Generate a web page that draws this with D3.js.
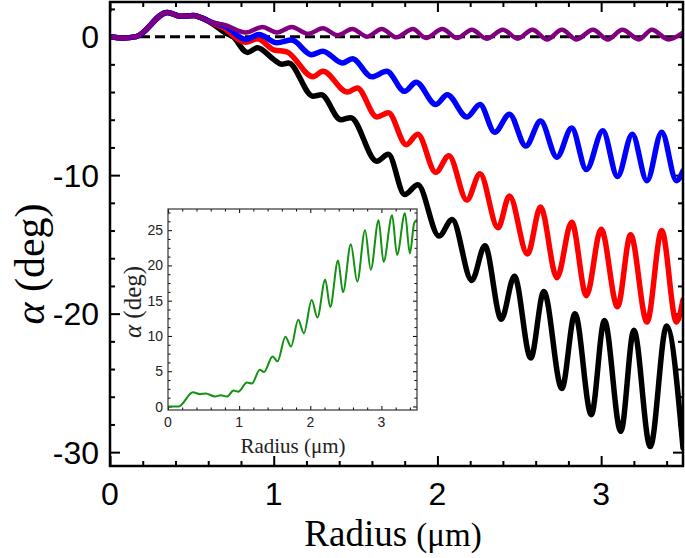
<!DOCTYPE html>
<html>
<head>
<meta charset="utf-8">
<script src="https://cdn.jsdelivr.net/npm/d3@7"></script>
<style>
  html, body { margin: 0; padding: 0; background: #fff; }
  svg { display: block; }
</style>
</head>
<body>
<svg id="chart" width="685" height="558"></svg>
<script>
// ---------------- DATA ----------------
// Main panel: rotation angle alpha (deg) vs radius (um); extrema / turning points
const purpleR = [0, 0.08, 0.16, 0.35, 0.43, 0.51, 0.56, 0.63, 0.70, 0.83, 0.93, 1.02, 1.11, 1.21, 1.30, 1.39, 1.48, 1.57, 1.66, 1.75, 1.85, 1.93, 2.03, 2.12, 2.21, 2.30, 2.40, 2.49, 2.58, 2.67, 2.76, 2.85, 2.95, 3.04, 3.13, 3.23, 3.31, 3.41, 3.50];
const purpleA = [0, -0.1, 0, 1.75, 1.47, 1.52, 1.35, 1.0, 0.85, 0.3, 0.7, 0.3, 0.7, 0.2, 0.6, 0.1, 0.55, 0, 0.55, -0.05, 0.55, -0.1, 0.55, -0.1, 0.5, -0.15, 0.5, -0.15, 0.5, -0.2, 0.5, -0.2, 0.5, -0.2, 0.5, -0.2, 0.5, -0.2, 0.3];

const blueR = [0, 0.08, 0.16, 0.35, 0.43, 0.51, 0.56, 0.63, 0.70, 0.83, 0.91, 1.02, 1.11, 1.23, 1.30, 1.42, 1.48, 1.60, 1.69, 1.80, 1.87, 1.99, 2.06, 2.18, 2.26, 2.35, 2.44, 2.54, 2.63, 2.73, 2.82, 2.91, 3.01, 3.10, 3.19, 3.28, 3.37, 3.46, 3.50];
const blueA = [0, -0.1, 0, 1.75, 1.47, 1.52, 1.35, 1.0, 0.75, -0.2, 0.15, -0.45, -0.25, -1.3, -1.05, -1.9, -1.6, -2.9, -2.5, -3.95, -3.3, -4.9, -4.2, -5.8, -4.9, -6.9, -5.6, -7.9, -6.1, -8.7, -6.6, -9.6, -6.8, -10.1, -7.05, -10.4, -6.9, -10.4, -9.7];

const redR = [0, 0.08, 0.16, 0.35, 0.43, 0.51, 0.56, 0.63, 0.70, 0.77, 0.83, 0.90, 1.00, 1.08, 1.24, 1.30, 1.45, 1.51, 1.63, 1.70, 1.81, 1.88, 1.99, 2.07, 2.18, 2.26, 2.37, 2.44, 2.55, 2.63, 2.73, 2.82, 2.91, 3.00, 3.10, 3.18, 3.28, 3.37, 3.46, 3.50];
const redA = [0, -0.1, 0, 1.75, 1.47, 1.52, 1.35, 0.95, 0.6, -0.1, -0.4, -0.15, -0.95, -1.1, -2.9, -2.5, -4.0, -3.7, -5.8, -5.5, -7.8, -7.05, -9.8, -8.6, -11.8, -9.9, -13.8, -11.5, -15.7, -12.3, -17.4, -13.4, -18.7, -13.9, -19.5, -14.3, -20.6, -14.0, -20.6, -19.0];

const blackR = [0, 0.08, 0.16, 0.35, 0.43, 0.51, 0.56, 0.63, 0.70, 0.75, 0.84, 0.90, 1.00, 1.05, 1.09, 1.24, 1.29, 1.41, 1.47, 1.63, 1.70, 1.80, 1.88, 2.01, 2.09, 2.21, 2.29, 2.39, 2.47, 2.57, 2.65, 2.76, 2.84, 2.94, 3.02, 3.12, 3.20, 3.30, 3.40, 3.50];
const blackA = [0, -0.1, 0, 1.75, 1.47, 1.52, 1.35, 0.9, 0.3, 0.0, -1.15, -0.8, -1.65, -2.0, -1.9, -4.3, -4.2, -6.0, -5.85, -9.0, -8.5, -11.4, -10.7, -14.4, -13.2, -17.6, -15.1, -20.4, -17.3, -23.2, -18.4, -25.4, -20.0, -27.3, -20.5, -28.5, -21.2, -29.6, -20.9, -29.7];

// Inset: green curve
const greenR = [0, 0.15, 0.35, 0.45, 0.53, 0.66, 0.74, 0.83, 0.92, 0.99, 1.11, 1.18, 1.29, 1.35, 1.47, 1.54, 1.65, 1.73, 1.83, 1.91, 2.02, 2.10, 2.21, 2.28, 2.39, 2.46, 2.57, 2.66, 2.77, 2.85, 2.96, 3.03, 3.15, 3.22, 3.33, 3.40, 3.46, 3.50];
const greenA = [0, 0, 2.0, 1.75, 1.85, 1.4, 1.6, 1.4, 2.25, 2.1, 3.4, 3.25, 5.2, 4.9, 7.1, 6.4, 9.9, 8.5, 12.3, 10.4, 15.1, 12.6, 18.0, 14.1, 20.7, 16.2, 23.0, 17.7, 25.0, 19.4, 26.4, 20.5, 27.1, 21.5, 27.4, 21.7, 26.0, 26.5];

// Ticks
const mainXTicks = [0, 1, 2, 3];
const mainYTicks = [0, -10, -20, -30];
const insetXTicks = [0, 1, 2, 3];
const insetYTicks = [0, 5, 10, 15, 20, 25];

// ---------------- DRAWING ----------------
const svg = d3.select("#chart");
const SANS = "'Liberation Sans', Arial, sans-serif";
const SERIF = "'Liberation Serif', 'Times New Roman', serif";

// Main scales
const L = 110, R = 683, T = 2, B = 466;
const x = d3.scaleLinear().domain([0, 3.5]).range([L, R]);
const y = d3.scaleLinear().domain([-31, 2.5]).range([B, T]);

svg.append("defs").append("clipPath").attr("id", "clipMain")
  .append("rect").attr("x", L).attr("y", T).attr("width", R - L).attr("height", B - T);

function drawTicks(g, scale, values, orient, size, width) {
  const ax = (orient === "bottom" ? d3.axisBottom : orient === "top" ? d3.axisTop :
              orient === "left" ? d3.axisLeft : d3.axisRight)(scale)
    .tickValues(values).tickSize(-size).tickFormat("");
  g.call(ax);
  g.select(".domain").remove();
  g.selectAll(".tick line").attr("stroke", "#000").attr("stroke-width", width);
}
const range = (a, b, s) => d3.range(Math.round((b - a) / s) + 1).map(i => +(a + i * s).toFixed(4));

// Main ticks (inward, mirrored)
const mxMinor = range(0, 3.4, 0.2).filter(v => !mainXTicks.includes(v));
const myMinor = range(-30, 2, 2).filter(v => !mainYTicks.includes(v));
const mainAx = svg.append("g");
drawTicks(mainAx.append("g").attr("transform", `translate(0,${B})`), x, mainXTicks, "bottom", 10, 2);
drawTicks(mainAx.append("g").attr("transform", `translate(0,${B})`), x, mxMinor, "bottom", 5, 2);
drawTicks(mainAx.append("g").attr("transform", `translate(0,${T})`), x, mainXTicks, "top", 10, 2);
drawTicks(mainAx.append("g").attr("transform", `translate(0,${T})`), x, mxMinor, "top", 5, 2);
drawTicks(mainAx.append("g").attr("transform", `translate(${L},0)`), y, mainYTicks, "left", 10, 2);
drawTicks(mainAx.append("g").attr("transform", `translate(${L},0)`), y, myMinor, "left", 5, 2);
drawTicks(mainAx.append("g").attr("transform", `translate(${R},0)`), y, mainYTicks, "right", 10, 2);
drawTicks(mainAx.append("g").attr("transform", `translate(${R},0)`), y, myMinor, "right", 5, 2);

// Main tick labels
svg.append("g").selectAll("text").data(mainXTicks).join("text")
  .attr("x", d => x(d)).attr("y", 505).attr("text-anchor", "middle")
  .attr("font-family", SANS).attr("font-size", 32).text(d => d);
svg.append("g").selectAll("text").data(mainYTicks).join("text")
  .attr("x", 99).attr("y", d => y(d)).attr("dy", "0.36em").attr("text-anchor", "end")
  .attr("font-family", SANS).attr("font-size", 32).text(d => d);

// Main curves
const plot = svg.append("g").attr("clip-path", "url(#clipMain)");
plot.append("line").attr("x1", x(0)).attr("x2", x(3.5)).attr("y1", y(0)).attr("y2", y(0))
  .attr("stroke", "#000").attr("stroke-width", 3).attr("stroke-dasharray", "10,5");

const mkLine = (xs, ys) => d3.line().x(d => xs(d[0])).y(d => ys(d[1])).curve(d3.curveMonotoneX);
const zip = (a, b) => a.map((v, i) => [v, b[i]]);
const series = [
  { r: blackR, a: blackA, color: "#000000", w: 5.5 },
  { r: redR, a: redA, color: "#ff0000", w: 5.5 },
  { r: blueR, a: blueA, color: "#0000ff", w: 5.5 },
  { r: purpleR, a: purpleA, color: "#800080", w: 4.5 }
];
series.forEach(s => {
  plot.append("path").datum(zip(s.r, s.a)).attr("d", mkLine(x, y))
    .attr("fill", "none").attr("stroke", s.color).attr("stroke-width", s.w)
    .attr("stroke-linejoin", "round").attr("stroke-linecap", "round");
});

// Main frame
svg.append("rect").attr("x", L).attr("y", T).attr("width", R - L).attr("height", B - T)
  .attr("fill", "none").attr("stroke", "#000").attr("stroke-width", 2.5);

// Main axis labels
const yl = svg.append("text").attr("transform", "translate(44,264) rotate(-90)")
  .attr("text-anchor", "middle").attr("font-family", SERIF).attr("font-size", 42);
yl.append("tspan").attr("font-style", "italic").text("α");
yl.append("tspan").text(" (deg)");
const xl = svg.append("text").attr("x", 393).attr("y", 546).attr("text-anchor", "middle")
  .attr("font-family", SERIF);
xl.append("tspan").attr("font-size", 37).text("Radius ");
xl.append("tspan").attr("font-size", 33).text("(μm)");

// ---------------- INSET ----------------
const iL = 168, iR = 417, iT = 209, iB = 410;
const ix = d3.scaleLinear().domain([0, 3.5]).range([iL, iR]);
const iy = d3.scaleLinear().domain([-0.5, 28]).range([iB, iT]);
svg.append("rect").attr("x", iL).attr("y", iT).attr("width", iR - iL).attr("height", iB - iT)
  .attr("fill", "#fff");
svg.append("defs").append("clipPath").attr("id", "clipInset")
  .append("rect").attr("x", iL).attr("y", iT).attr("width", iR - iL).attr("height", iB - iT);

const ixMinor = range(0, 3.4, 0.2).filter(v => !insetXTicks.includes(v));
const iyMinor = range(0, 27.5, 1.25).filter(v => !insetYTicks.includes(v));
const inAx = svg.append("g");
drawTicks(inAx.append("g").attr("transform", `translate(0,${iB})`), ix, insetXTicks, "bottom", 4, 1);
drawTicks(inAx.append("g").attr("transform", `translate(0,${iB})`), ix, ixMinor, "bottom", 2.5, 1);
drawTicks(inAx.append("g").attr("transform", `translate(0,${iT})`), ix, insetXTicks, "top", 4, 1);
drawTicks(inAx.append("g").attr("transform", `translate(0,${iT})`), ix, ixMinor, "top", 2.5, 1);
drawTicks(inAx.append("g").attr("transform", `translate(${iL},0)`), iy, insetYTicks, "left", 4, 1);
drawTicks(inAx.append("g").attr("transform", `translate(${iL},0)`), iy, iyMinor, "left", 2.5, 1);
drawTicks(inAx.append("g").attr("transform", `translate(${iR},0)`), iy, insetYTicks, "right", 4, 1);
drawTicks(inAx.append("g").attr("transform", `translate(${iR},0)`), iy, iyMinor, "right", 2.5, 1);

svg.append("g").attr("clip-path", "url(#clipInset)").append("path")
  .datum(zip(greenR, greenA)).attr("d", mkLine(ix, iy))
  .attr("fill", "none").attr("stroke", "#129112").attr("stroke-width", 2)
  .attr("stroke-linejoin", "round");

svg.append("rect").attr("x", iL).attr("y", iT).attr("width", iR - iL).attr("height", iB - iT)
  .attr("fill", "none").attr("stroke", "#333").attr("stroke-width", 1.2);

svg.append("g").selectAll("text").data(insetXTicks).join("text")
  .attr("x", d => ix(d)).attr("y", 427).attr("text-anchor", "middle")
  .attr("font-family", SANS).attr("font-size", 14).attr("fill", "#222").text(d => d);
svg.append("g").selectAll("text").data(insetYTicks).join("text")
  .attr("x", 163).attr("y", d => iy(d)).attr("dy", "0.36em").attr("text-anchor", "end")
  .attr("font-family", SANS).attr("font-size", 14).attr("fill", "#222").text(d => d);

const iyl = svg.append("text").attr("transform", "translate(141,302) rotate(-90)")
  .attr("text-anchor", "middle").attr("font-family", SERIF).attr("font-size", 25).attr("fill", "#222");
iyl.append("tspan").attr("font-style", "italic").text("α");
iyl.append("tspan").text(" (deg)");
svg.append("text").attr("x", 293).attr("y", 453).attr("text-anchor", "middle")
  .attr("font-family", SERIF).attr("font-size", 21).attr("fill", "#222").text("Radius (μm)");
</script>
</body>
</html>
